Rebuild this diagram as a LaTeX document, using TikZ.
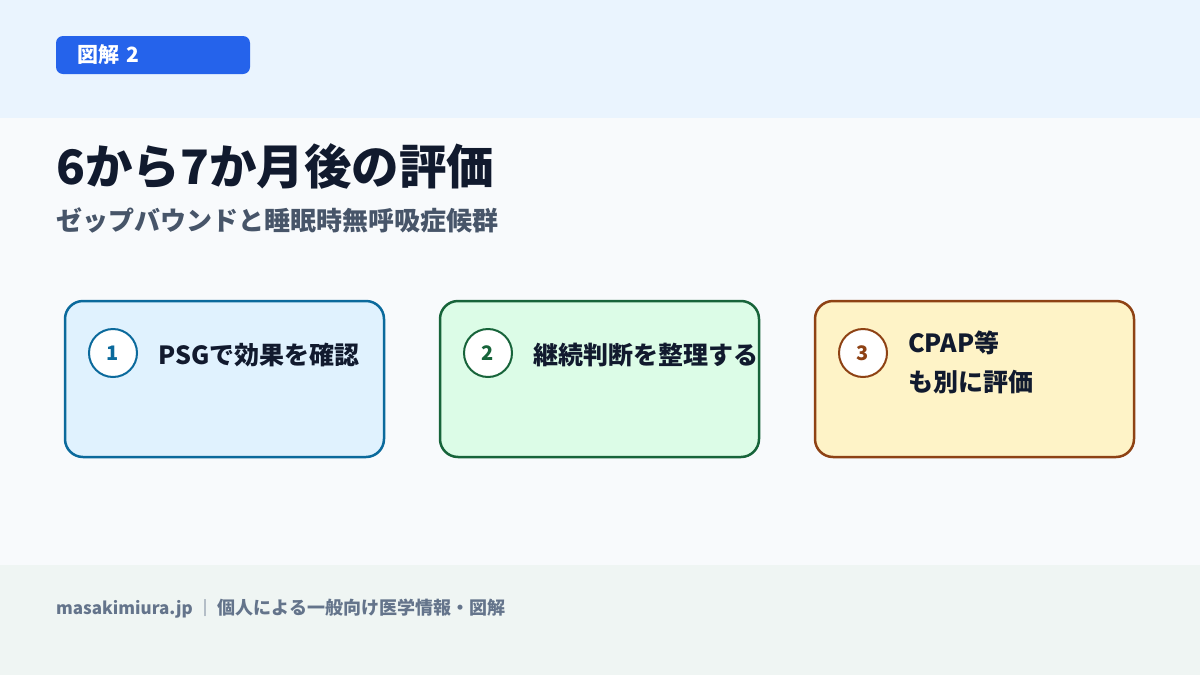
\documentclass[tikz,border=0pt]{standalone}
\usepackage{fontspec}
\setmainfont{Noto Sans CJK JP}
\definecolor{topband}{HTML}{EAF4FE}
\definecolor{pagebg}{HTML}{F8FAFC}
\definecolor{footband}{HTML}{EFF5F3}
\definecolor{badge}{HTML}{2563EB}
\definecolor{ink}{HTML}{111A2E}
\definecolor{subink}{HTML}{475569}
\definecolor{footink}{HTML}{64748B}
\definecolor{bluefill}{HTML}{E0F2FE}
\definecolor{blueline}{HTML}{0B6A9C}
\definecolor{greenfill}{HTML}{DCFCE7}
\definecolor{greenline}{HTML}{17643A}
\definecolor{brownfill}{HTML}{FEF3C7}
\definecolor{brownline}{HTML}{8E4214}
\newcommand{\px}[1]{\fontsize{#1}{#1}\selectfont}
\begin{document}
\begin{tikzpicture}[x=1pt,y=-1pt,
  card/.style={line width=2.5pt, rounded corners=18pt},
  num/.style={circle, draw, line width=2pt, fill=white, minimum size=48pt, inner sep=0pt, font=\bfseries\px{20}},
  cardtext/.style={anchor=west, inner sep=0pt, text=ink, align=left, font=\bfseries\fontsize{25}{39}\selectfont}]
	% bands
	\fill[pagebg] (0,0) rectangle (1200,675);
	\fill[topband] (0,0) rectangle (1200,118);
	\fill[footband] (0,565) rectangle (1200,675);
	% badge and titles
	\fill[badge, rounded corners=7pt] (56,36) rectangle (250,74);
	\node[anchor=west, inner sep=0pt, text=white, font=\bfseries\px{21}] (badge) at (77,55) {図解\hspace{3pt} 2};
	\node[anchor=west, inner sep=0pt, text=ink, font=\bfseries\px{47.5}] (title) at (56,166) {6から7か月後の評価};
	\node[anchor=west, inner sep=0pt, text=subink, font=\bfseries\px{26}] (subtitle) at (56,220) {ゼップバウンドと睡眠時無呼吸症候群};
	% cards
	\foreach \i/\x/\fc/\dc/\ty/\txt in {1/65/bluefill/blueline/355/{PSGで効果を確認},
		2/440/greenfill/greenline/355/{継続判断を整理する},
		3/815/brownfill/brownline/362/{CPAP等\\も別に評価}} {
		\filldraw[card, fill=\fc, draw=\dc] (\x,301) rectangle ++(319,156);
		\node[num, draw=\dc, text=\dc] (n\i) at (\x+48,353) {\i};
		\node[cardtext] (t\i) at (\x+93,\ty) {\txt};
	}
	% footer
	\node[anchor=west, inner sep=0pt, text=footink, font=\bfseries\px{17}] (foot) at (56,609) {masakimiura.jp ｜ {\px{18}個人による一般向け医学情報・図解}};
\end{tikzpicture}
\end{document}
